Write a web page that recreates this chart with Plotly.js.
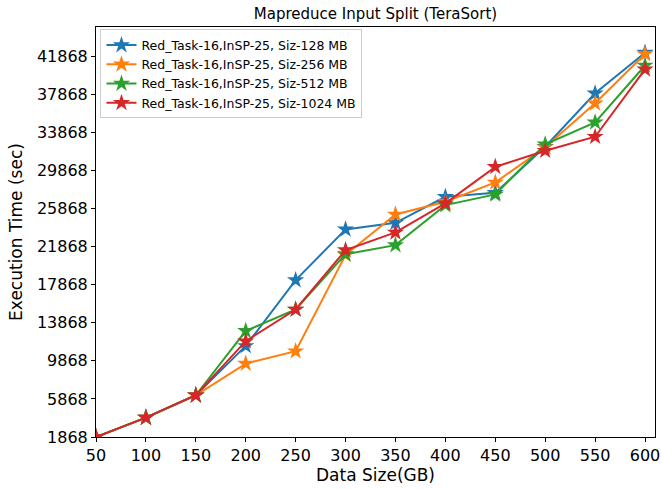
<!DOCTYPE html>
<html>
<head>
<meta charset="utf-8">
<script src="https://cdn.plot.ly/plotly-3.0.1.min.js"></script>
<style>html,body{margin:0;padding:0;background:#fff;}#chart{width:662px;height:489px;}</style>
</head>
<body>
<div id="chart"></div>
<script>
const dataSize = [50, 100, 150, 200, 250, 300, 350, 400, 450, 500, 550, 600];
const seriesNames = [
  "Red_Task-16,InSP-25, Siz-128 MB",
  "Red_Task-16,InSP-25, Siz-256 MB",
  "Red_Task-16,InSP-25, Siz-512 MB",
  "Red_Task-16,InSP-25, Siz-1024 MB"
];
const siz128 = [1868, 3900, 6250, 11430, 18340, 23670, 24360, 27090, 27510, 32350, 37960, 42230];
const siz256 = [1868, 3900, 6250, 9580, 10880, 21000, 25240, 26570, 28600, 32300, 36910, 42090];
const siz512 = [1868, 3900, 6250, 13010, 15260, 21070, 22020, 26220, 27340, 32600, 34910, 40880];
const siz1024 = [1868, 3900, 6250, 11930, 15260, 21490, 23350, 26400, 30240, 31930, 33400, 40480];
const yTicks = [1868, 5868, 9868, 13868, 17868, 21868, 25868, 29868, 33868, 37868, 41868];
const xTicks = [50, 100, 150, 200, 250, 300, 350, 400, 450, 500, 550, 600];

const colors = ["#1f77b4", "#ff7f0e", "#2ca02c", "#d62728"];
const allSeries = [siz128, siz256, siz512, siz1024];

const traces = allSeries.map((ys, i) => ({
  x: dataSize,
  y: ys,
  name: seriesNames[i],
  type: "scatter",
  mode: "lines+markers",
  line: {color: colors[i], width: 2},
  marker: {symbol: "star", size: 13, color: colors[i], line: {width: 0}}
}));

const font = "DejaVu Sans, sans-serif";
const layout = {
  width: 662,
  height: 489,
  margin: {l: 96, r: 7, t: 27, b: 52},
  paper_bgcolor: "#fff",
  plot_bgcolor: "#fff",
  font: {family: font, color: "#000"},
  title: {
    text: "Mapreduce Input Split (TeraSort)",
    font: {family: font, size: 15, color: "#000"},
    xref: "paper", x: 0.5, xanchor: "center",
    yref: "container", y: 0.972, yanchor: "middle"
  },
  xaxis: {
    range: [50, 610],
    tickvals: xTicks,
    ticktext: xTicks.map(String),
    ticks: "outside", ticklen: 4, tickwidth: 1, tickcolor: "#000",
    showline: true, linecolor: "#000", linewidth: 1, mirror: true,
    showgrid: false, zeroline: false,
    tickfont: {family: font, size: 16, color: "#000"},
    title: {text: "Data Size(GB)", font: {family: font, size: 17, color: "#000"}, standoff: 3}
  },
  yaxis: {
    range: [1868, 44926],
    tickvals: yTicks,
    ticktext: yTicks.map(String),
    ticks: "outside", ticklen: 4, tickwidth: 1, tickcolor: "#000",
    showline: true, linecolor: "#000", linewidth: 1, mirror: true,
    showgrid: false, zeroline: false,
    tickfont: {family: font, size: 16, color: "#000"},
    title: {text: "Execution Time (sec)", font: {family: font, size: 17, color: "#000"}, standoff: 9}
  },
  legend: {
    x: 0.008, y: 0.994, xanchor: "left", yanchor: "top",
    bgcolor: "rgba(255,255,255,0.8)", bordercolor: "#cccccc", borderwidth: 1,
    font: {family: font, size: 12.5, color: "#000"},
    tracegroupgap: 0, itemwidth: 30
  },
  showlegend: true
};

Plotly.newPlot("chart", traces, layout, {displayModeBar: false, staticPlot: true});
</script>
</body>
</html>
